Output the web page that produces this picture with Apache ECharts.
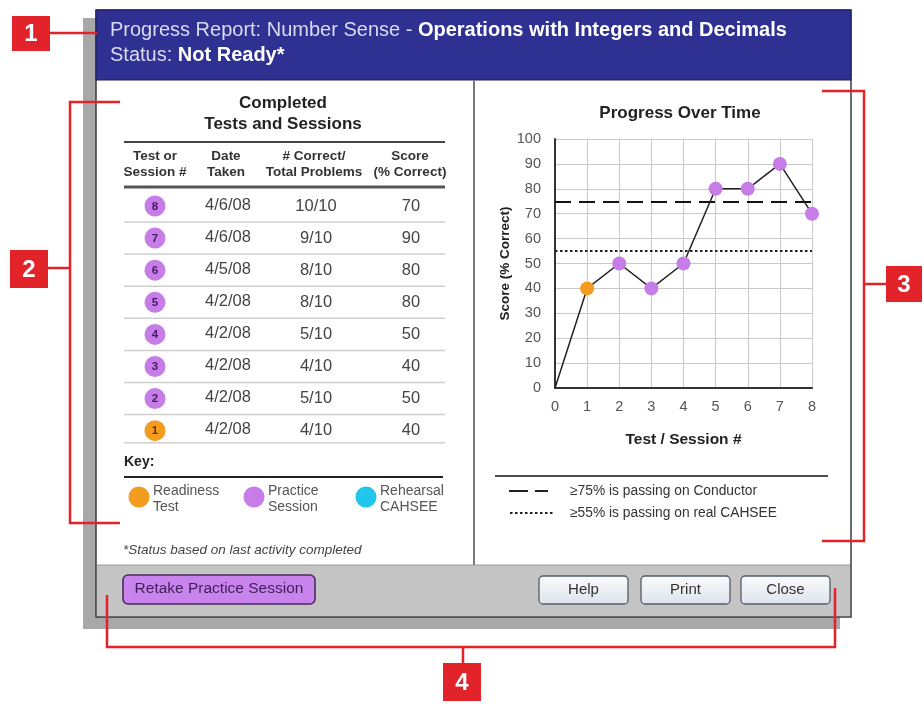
<!DOCTYPE html>
<html>
<head>
<meta charset="utf-8">
<script src="https://cdn.jsdelivr.net/npm/echarts@6/dist/echarts.min.js"></script>
<style>
html,body{margin:0;padding:0;background:#fff;}
#c{width:924px;height:704px;}
</style>
</head>
<body>
<div id="c"></div>
<script>
// ---- data ----
const tableSessions = [8, 7, 6, 5, 4, 3, 2, 1];
const tableDates = ['4/6/08', '4/6/08', '4/5/08', '4/2/08', '4/2/08', '4/2/08', '4/2/08', '4/2/08'];
const tableCorrect = ['10/10', '9/10', '8/10', '8/10', '5/10', '4/10', '5/10', '4/10'];
const tableScores = [70, 90, 80, 80, 50, 40, 50, 40];
const tableTypes = ['practice', 'practice', 'practice', 'practice', 'practice', 'practice', 'practice', 'readiness'];
const headerCols = [['Test or', 'Session #'], ['Date', 'Taken'], ['# Correct/', 'Total Problems'], ['Score', '(% Correct)']];
const keyItems = [['readiness', 'Readiness', 'Test'], ['practice', 'Practice', 'Session'], ['rehearsal', 'Rehearsal', 'CAHSEE']];
const chartX = [0, 1, 2, 3, 4, 5, 6, 7, 8];
const chartScores = [0, 40, 50, 40, 50, 80, 80, 90, 70];
const chartTypes = ['start', 'readiness', 'practice', 'practice', 'practice', 'practice', 'practice', 'practice', 'practice'];
const passConductor = 75;
const passCahsee = 55;
const buttonsRight = ['Help', 'Print', 'Close'];

const FONT = '"Liberation Sans", Arial, Helvetica, sans-serif';
const typeColor = { readiness: '#f39c1f', practice: '#c67de8', rehearsal: '#22c6ea' };
const RED = '#e2232a';

const g = [];
function rect(x, y, w, h, fill, extra) {
  g.push(Object.assign({ type: 'rect', z: -10, shape: { x, y, width: w, height: h }, style: { fill } }, extra || {}));
}
function line(x1, y1, x2, y2, stroke, lw, dash, z) {
  g.push({ type: 'line', z: z == null ? -5 : z, shape: { x1, y1, x2, y2 }, style: { stroke, lineWidth: lw, lineDash: dash || null } });
}
function poly(points, stroke, lw) {
  g.push({ type: 'polyline', z: 50, shape: { points }, style: { stroke, lineWidth: lw, fill: null } });
}
function text(t, x, y, size, opts) {
  opts = opts || {};
  g.push({
    type: 'text', z: 60,
    style: {
      text: t, x, y,
      textAlign: opts.align || 'left', textVerticalAlign: 'middle',
      font: (opts.italic ? 'italic ' : '') + (opts.bold ? 'bold ' : '') + size + 'px ' + FONT,
      fill: opts.color || '#333'
    }
  });
}
function circle(cx, cy, r, fill) {
  g.push({ type: 'circle', z: 40, shape: { cx, cy, r }, style: { fill } });
}

// window shadow + window
rect(83, 18, 757, 611, '#a8a8a8', { z: -20 });
rect(96, 10, 755, 607, '#ffffff', { style: { fill: '#fff', stroke: '#3a3a3a', lineWidth: 1.5 } });
rect(96, 10, 755, 70, '#2e3092', { style: { fill: '#2e3092', stroke: '#1c1d55', lineWidth: 1 } });
rect(97, 565, 753, 51, '#c4c4c4');
line(97, 565, 850, 565, '#9a9a9a', 1);
line(474, 80, 474, 565, '#7a7a7a', 2);

// header text
const hdrRich = {
  n: { fill: '#d9dbf3', color: '#d9dbf3', fontSize: 20, fontFamily: FONT },
  b: { fill: '#ffffff', color: '#ffffff', fontSize: 20, fontWeight: 'bold', fontFamily: FONT }
};
g.push({
  type: 'text', z: 60,
  style: { x: 110, y: 30, textVerticalAlign: 'middle', text: '{n|Progress Report: Number Sense - }{b|Operations with Integers and Decimals}', rich: hdrRich }
});
g.push({
  type: 'text', z: 60,
  style: { x: 110, y: 55, textVerticalAlign: 'middle', text: '{n|Status: }{b|Not Ready*}', rich: hdrRich }
});

// left panel: table
text('Completed', 283, 103, 17, { bold: true, align: 'center', color: '#222' });
text('Tests and Sessions', 283, 124, 17, { bold: true, align: 'center', color: '#222' });
line(124, 142, 445, 142, '#444', 2);
const colX = [155, 226, 314, 410];
headerCols.forEach((c, i) => {
  text(c[0], colX[i], 156, 13.5, { bold: true, align: 'center', color: '#333' });
  text(c[1], colX[i], 172, 13.5, { bold: true, align: 'center', color: '#333' });
});
line(124, 187, 445, 187, '#555', 3);
tableSessions.forEach((s, i) => {
  const cy = 206 + 32.1 * i;
  circle(155, cy, 10.5, typeColor[tableTypes[i]]);
  text(String(s), 155, cy + 0.5, 11.5, { bold: true, align: 'center', color: tableTypes[i] === 'readiness' ? '#6a3200' : '#4a1768' });
  text(tableDates[i], 228, cy - 1, 16.5, { align: 'center', color: '#444' });
  text(tableCorrect[i], 316, cy, 16.5, { align: 'center', color: '#444' });
  text(String(tableScores[i]), 411, cy, 16.5, { align: 'center', color: '#444' });
  const ly = i === tableSessions.length - 1 ? cy + 12 : cy + 16;
  line(124, ly, 445, ly, '#cfcfcf', 1.5);
});

// key
text('Key:', 124, 462, 14, { bold: true, color: '#222' });
line(124, 477, 443, 477, '#222', 2);
const keyX = [139, 254, 366];
keyItems.forEach((k, i) => {
  circle(keyX[i], 497, 10.5, typeColor[k[0]]);
  text(k[1], keyX[i] + 14, 491, 14, { color: '#555' });
  text(k[2], keyX[i] + 14, 507, 14, { color: '#555' });
});
text('*Status based on last activity completed', 123, 550, 13.5, { italic: true, color: '#444' });

// right panel: chart title & legend
text('Progress Over Time', 680, 113, 17, { bold: true, align: 'center', color: '#222' });
line(495, 476, 828, 476, '#111', 1.5);
line(509, 491, 548, 491, '#222', 2, [19, 7]);
line(510, 513, 553, 513, '#222', 2, [2.5, 2.5]);
text('\u226575% is passing on Conductor', 570, 491, 13.8, { color: '#333' });
text('\u226555% is passing on real CAHSEE', 570, 513, 13.8, { color: '#333' });

// footer buttons
g.push({ type: 'rect', z: 30, shape: { x: 123, y: 575, width: 192, height: 29, r: 5 }, style: { fill: '#c883ec', stroke: '#4b2a5c', lineWidth: 1.6 } });
text('Retake Practice Session', 219, 589, 15.5, { align: 'center', color: '#3f1f5a' });
const btnX = [539, 641, 741];
buttonsRight.forEach((b, i) => {
  g.push({
    type: 'rect', z: 30, shape: { x: btnX[i], y: 576, width: 89, height: 28, r: 4 },
    style: {
      fill: new echarts.graphic.LinearGradient(0, 0, 0, 1, [{ offset: 0, color: '#fbfcfd' }, { offset: 1, color: '#dde3ea' }]),
      stroke: '#505d6a', lineWidth: 1.3
    }
  });
  text(b, btnX[i] + 44.5, 590, 15, { align: 'center', color: '#333' });
});

// red callouts
function badge(x, y, w, h, label) {
  g.push({ type: 'rect', z: 55, shape: { x, y, width: w, height: h }, style: { fill: RED } });
  text(label, x + w / 2, y + h / 2 + 1, 24, { bold: true, align: 'center', color: '#fff' });
}
badge(12, 16, 38, 35, '1');
line(50, 33, 97, 33, RED, 2.5, null, 50);
badge(10, 250, 38, 38, '2');
poly([[120, 102], [70, 102], [70, 523], [120, 523]], RED, 2.5);
line(48, 268, 70, 268, RED, 2.5, null, 50);
badge(886, 266, 36, 36, '3');
poly([[822, 91], [864, 91], [864, 541], [822, 541]], RED, 2.5);
line(864, 284, 886, 284, RED, 2.5, null, 50);
badge(443, 663, 38, 38, '4');
poly([[107, 595], [107, 647], [835, 647], [835, 588]], RED, 2.5);
line(463, 647, 463, 663, RED, 2.5, null, 50);

const seriesData = chartX.map((x, i) => ({
  value: [x, chartScores[i]],
  symbolSize: chartTypes[i] === 'start' ? 0 : 14,
  itemStyle: { color: typeColor[chartTypes[i]] || '#222' }
}));

const chart = echarts.init(document.getElementById('c'), null, { renderer: 'canvas' });
chart.setOption({
  animation: false,
  textStyle: { fontFamily: FONT },
  graphic: { elements: g },
  grid: { left: 555, top: 139, right: 112, bottom: 316, containLabel: false },
  xAxis: {
    type: 'value', min: 0, max: 8, interval: 1,
    name: 'Test / Session #', nameLocation: 'middle', nameGap: 44,
    nameTextStyle: { fontSize: 15.5, fontWeight: 'bold', color: '#222', fontFamily: FONT },
    axisLine: { show: true, lineStyle: { color: '#333', width: 2 } },
    axisTick: { show: false },
    axisLabel: { fontSize: 14.5, color: '#555', margin: 11, fontFamily: FONT },
    splitLine: { show: true, lineStyle: { color: '#c9c9c9', width: 1 } }
  },
  yAxis: {
    type: 'value', min: 0, max: 100, interval: 10,
    name: 'Score (% Correct)', nameLocation: 'middle', nameGap: 43, nameRotate: 90,
    nameTextStyle: { fontSize: 13.5, fontWeight: 'bold', color: '#222', fontFamily: FONT },
    axisLine: { show: true, lineStyle: { color: '#333', width: 2 } },
    axisTick: { show: false },
    axisLabel: { fontSize: 14.5, color: '#555', margin: 14, fontFamily: FONT },
    splitLine: { show: true, lineStyle: { color: '#c9c9c9', width: 1 } }
  },
  series: [{
    type: 'line',
    data: seriesData,
    symbol: 'circle',
    lineStyle: { color: '#222', width: 1.5 },
    z: 5,
    markLine: {
      silent: true,
      symbol: ['none', 'none'],
      label: { show: false },
      data: [
        { yAxis: passConductor, lineStyle: { type: [16, 8], color: '#111', width: 2 } },
        { yAxis: passCahsee, lineStyle: { type: [2.5, 2.5], color: '#222', width: 2 } }
      ]
    }
  }]
});
</script>
</body>
</html>
